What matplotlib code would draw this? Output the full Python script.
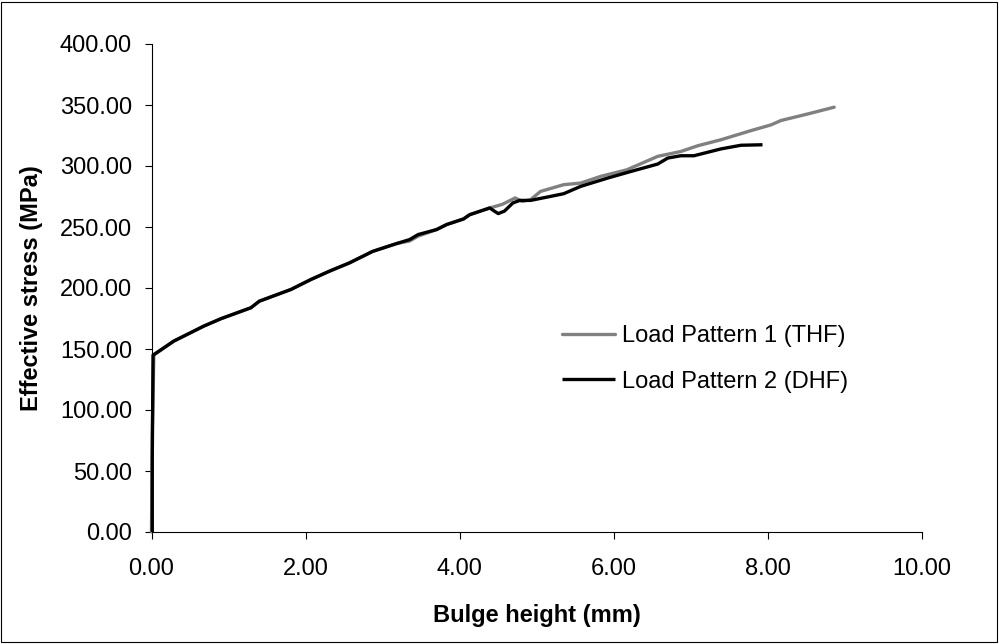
import matplotlib.pyplot as plt
from matplotlib.patches import Rectangle

thf_x = [0, 0.01, 0.03, 0.29, 0.68, 0.90, 1.29, 1.40, 1.81, 2.07, 2.31, 2.57, 2.87,
         3.18, 3.35, 3.46, 3.70, 3.83, 4.05, 4.13, 4.39, 4.55, 4.72, 4.81, 4.92,
         5.05, 5.35, 5.57, 5.83, 6.17, 6.57, 6.87, 7.09, 7.39, 7.78, 8.04, 8.17,
         8.52, 8.86]
thf_y = [0, 80, 145, 156.5, 168.8, 174.8, 183.8, 189.2, 198.8, 207, 213.8, 220.6, 230,
         236.4, 238.5, 242.5, 247.9, 252, 256.6, 260.1, 265.6, 268.5, 273.8, 271, 272.4,
         279.2, 284.7, 286, 291.5, 296.9, 307.9, 311.9, 316.6, 321.5, 329, 333.7, 337.3,
         342.7, 348.2]

dhf_x = [0.01, 0.01, 0.02, 0.29, 0.68, 0.90, 1.29, 1.40, 1.81, 2.07, 2.31, 2.57, 2.87,
         3.18, 3.35, 3.46, 3.70, 3.83, 4.05, 4.13, 4.39, 4.45, 4.50, 4.58, 4.69, 4.78,
         4.92, 5.18, 5.35, 5.57, 5.92, 6.22, 6.57, 6.70, 6.87, 7.04, 7.39, 7.65, 7.93]
dhf_y = [0, 60, 145, 156.5, 168.8, 174.8, 183.8, 189.2, 198.8, 207, 213.8, 220.6, 230,
         236.4, 239.7, 243.8, 247.9, 252, 256.6, 260.1, 265.6, 263, 261, 263, 269.7, 271.8,
         271.8, 275.1, 277.3, 283.3, 290.1, 295.5, 301.6, 306.5, 308.4, 308.4, 314, 317, 317.4]

x_ticks = [0, 2, 4, 6, 8, 10]
y_ticks = [0, 50, 100, 150, 200, 250, 300, 350, 400]

plt.rcParams['font.family'] = ['Liberation Sans', 'DejaVu Sans']
fs = 17

fig = plt.figure(figsize=(9.99, 6.44), dpi=100)
ax = fig.add_axes([151.5 / 999, 112 / 644, 770.5 / 999, 488 / 644])

ax.plot(thf_x, thf_y, color='#808080', lw=2.4, label='Load Pattern 1 (THF)',
        solid_capstyle='round', clip_on=False)
ax.plot(dhf_x, dhf_y, color='black', lw=2.4, label='Load Pattern 2 (DHF)',
        solid_capstyle='butt', clip_on=False)

ax.set_xlim(0, 10)
ax.set_ylim(0, 400)
ax.set_xticks(x_ticks)
ax.set_yticks(y_ticks)
ax.set_xticklabels(['%.2f' % v for v in x_ticks])
ax.set_yticklabels(['%.2f' % v for v in y_ticks])
ax.spines['top'].set_visible(False)
ax.spines['right'].set_visible(False)
ax.spines['left'].set_linewidth(0.8)
ax.spines['bottom'].set_linewidth(0.8)
ax.tick_params(axis='both', direction='out', length=5, width=0.8, labelsize=fs)
ax.tick_params(axis='x', pad=14)
ax.tick_params(axis='y', pad=9)

ax.set_xlabel('Bulge height (mm)', fontsize=fs, fontweight='bold', labelpad=17)
ax.set_ylabel('Effective stress (MPa)', fontsize=fs, fontweight='bold', labelpad=12)

ax.legend(loc='upper left', bbox_to_anchor=(0.533, 0.424), frameon=False,
          fontsize=fs, handlelength=2.25, handletextpad=0.3, labelspacing=1.0,
          borderpad=0, borderaxespad=0)

# outer chart border
fig.add_artist(Rectangle((0.0015, 0.003), 0.996, 0.994, transform=fig.transFigure,
                         fill=False, edgecolor='black', lw=0.8))

fig.savefig('out.png', dpi=100)
